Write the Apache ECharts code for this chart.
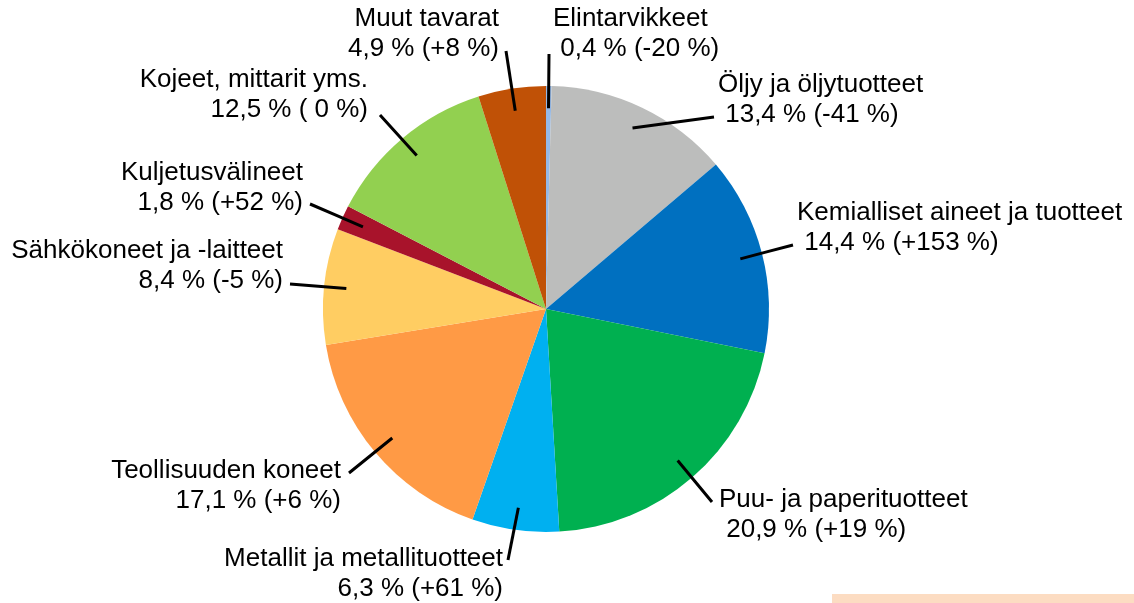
<!DOCTYPE html>
<html>
<head>
<meta charset="utf-8">
<script src="https://cdn.jsdelivr.net/npm/echarts@6/dist/echarts.min.js"></script>
<style>
  html, body { margin: 0; padding: 0; background: #ffffff; }
  #chart { width: 1134px; height: 603px; }
</style>
</head>
<body>
<div id="chart"></div>
<script>
// tavararyhmät myötäpäivään klo 12:sta alkaen
const categories = [
  'Elintarvikkeet',
  'Öljy ja öljytuotteet',
  'Kemialliset aineet ja tuotteet',
  'Puu- ja paperituotteet',
  'Metallit ja metallituotteet',
  'Teollisuuden koneet',
  'Sähkökoneet ja -laitteet',
  'Kuljetusvälineet',
  'Kojeet, mittarit yms.',
  'Muut tavarat',
]
// osuus, %
const shares = [0.4, 13.4, 14.4, 20.9, 6.3, 17.1, 8.4, 1.8, 12.5, 4.9]
// muutos, %
const changes = [-20, -41, 153, 19, 61, 6, -5, 52, 0, 8]

const sliceColors = [
  '#95B9E6', '#BCBDBC', '#0070C0', '#00B050', '#00B0F0',
  '#FF9A45', '#FFCD62', '#A8132B', '#92D050', '#C05106',
]

// tekstien paikat: x, y (keskikohta), tasaus ja viivan ulkopää
const labelPlacement = [
  { x: 553, y: 34, align: 'left', lx: 549, ly: 54 },
  { x: 718, y: 100, align: 'left', lx: 714, ly: 117 },
  { x: 797, y: 228, align: 'left', lx: 793, ly: 245 },
  { x: 719, y: 515, align: 'left', lx: 712, ly: 502 },
  { x: 503, y: 574, align: 'right', lx: 508, ly: 560 },
  { x: 341, y: 486, align: 'right', lx: 349, ly: 473 },
  { x: 283, y: 266, align: 'right', lx: 290, ly: 284 },
  { x: 303, y: 188, align: 'right', lx: 310, ly: 204 },
  { x: 368, y: 95, align: 'right', lx: 380, ly: 115 },
  { x: 499, y: 34, align: 'right', lx: 506, ly: 51 },
]

const CENTER = [546, 309]
const RADIUS = 223

const fmt = (v) => v.toFixed(1).replace('.', ',')
const fmtChange = (v) => (v > 0 ? '+' + v : v === 0 ? ' 0' : String(v))

const chart = echarts.init(document.getElementById('chart'), null, { renderer: 'canvas' })

const pieData = categories.map((name, i) => ({
  name,
  value: shares[i],
  itemStyle: { color: sliceColors[i] },
}))

const labelData = categories.map((name, i) => ({ name, value: shares[i] }))

const placeLabel = (params) => {
  const p = labelPlacement[params.dataIndex]
  let edge = params.labelLinePoints && params.labelLinePoints[0]
  if (!edge) {
    // varalla: siivun keskikulma osuuksista
    let before = 0
    for (let k = 0; k < params.dataIndex; k++) before += shares[k]
    const total = shares.reduce((a, b) => a + b, 0)
    const ang = ((before + shares[params.dataIndex] / 2) / total) * Math.PI * 2
    edge = [CENTER[0] + Math.sin(ang) * RADIUS, CENTER[1] - Math.cos(ang) * RADIUS]
  }
  const inner = [
    CENTER[0] + (edge[0] - CENTER[0]) * 0.9,
    CENTER[1] + (edge[1] - CENTER[1]) * 0.9,
  ]
  const mid = [(inner[0] + p.lx) / 2, (inner[1] + p.ly) / 2]
  return {
    x: p.x,
    y: p.y,
    align: p.align,
    verticalAlign: 'middle',
    labelLinePoints: [inner, mid, [p.lx, p.ly]],
  }
}

chart.setOption({
  animation: false,
  series: [
    {
      type: 'pie',
      z: 2,
      center: CENTER,
      radius: RADIUS,
      startAngle: 90,
      clockwise: true,
      itemStyle: { borderWidth: 0 },
      label: { show: false },
      labelLine: { show: false },
      data: pieData,
    },
    {
      // läpinäkyvä kopio, jonka tekstit ja viivat piirtyvät siivujen päälle
      type: 'pie',
      z: 3,
      silent: true,
      center: CENTER,
      radius: RADIUS,
      startAngle: 90,
      clockwise: true,
      avoidLabelOverlap: false,
      itemStyle: { color: 'rgba(0,0,0,0)', borderWidth: 0 },
      data: labelData,
      label: {
        show: true,
        position: 'outside',
        fontFamily: '"Liberation Sans", Arial, sans-serif',
        fontSize: 26,
        lineHeight: 30,
        color: '#000000',
        formatter: (p) => {
          const lead = labelPlacement[p.dataIndex].align === 'left' ? ' ' : ''
          return p.name + '\n' + lead + fmt(shares[p.dataIndex]) + ' % (' + fmtChange(changes[p.dataIndex]) + ' %)'
        },
      },
      labelLine: {
        show: true,
        length: 10,
        length2: 10,
        smooth: false,
        lineStyle: { color: '#000000', width: 3 },
      },
      labelLayout: placeLabel,
    },
  ],
  graphic: [
    {
      type: 'rect',
      left: 832,
      top: 594,
      shape: { width: 302, height: 9 },
      style: { fill: '#FCDCC2' },
      silent: true,
    },
  ],
})
</script>
</body>
</html>
